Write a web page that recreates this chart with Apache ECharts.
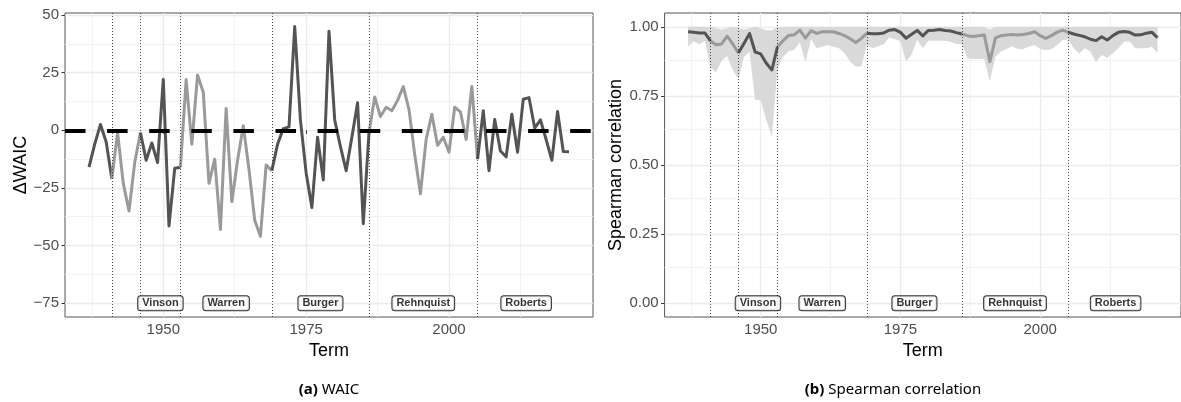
<!DOCTYPE html>
<html>
<head>
<meta charset="utf-8">
<script src="https://cdn.jsdelivr.net/npm/echarts@6/dist/echarts.min.js"></script>
<style>
  html, body { margin: 0; padding: 0; background: #fff; }
  #chart { width: 1181px; height: 402px; }
</style>
</head>
<body>
<div id="chart"></div>
<script>
// Supreme Court terms, 1937-2021
const years = [
  1937, 1938, 1939, 1940, 1941, 1942, 1943, 1944, 1945, 1946,
  1947, 1948, 1949, 1950, 1951, 1952, 1953, 1954, 1955, 1956,
  1957, 1958, 1959, 1960, 1961, 1962, 1963, 1964, 1965, 1966,
  1967, 1968, 1969, 1970, 1971, 1972, 1973, 1974, 1975, 1976,
  1977, 1978, 1979, 1980, 1981, 1982, 1983, 1984, 1985, 1986,
  1987, 1988, 1989, 1990, 1991, 1992, 1993, 1994, 1995, 1996,
  1997, 1998, 1999, 2000, 2001, 2002, 2003, 2004, 2005, 2006,
  2007, 2008, 2009, 2010, 2011, 2012, 2013, 2014, 2015, 2016,
  2017, 2018, 2019, 2020, 2021
];

// Difference in WAIC per term
const waic = [
  -16, -6, 2.5, -5, -21, -1, -23, -35, -14, -1,
  -13, -5.5, -14, 22, -41.5, -16.5, -16, 22, -6, 24,
  16.5, -23, -12.5, -43, 9.5, -31, -13, 2, -17, -39,
  -46, -15, -17.5, -6, 0.7, 1.5, 45, 4.5, -18.5, -33.5,
  -3, -21.5, 43, 4.5, -7, -17.5, -3, 12, -40.5, -1,
  14.5, 6, 10, 8.5, 13, 19, 9, -10.5, -27.5, -4,
  7, -6.5, -3, -9.5, 10, 8, -4, 19, -12.5, 8.5,
  -17.5, 4.7, -9, -11.5, 7, -9.5, 13.5, 14.2, 1, 4.5,
  -4, -13, 8.2, -9.2, -9.3
];

// Spearman correlation per term with its interval
const rho = [
  0.982, 0.980, 0.978, 0.978, 0.949, 0.935, 0.938, 0.966, 0.938, 0.905,
  0.940, 0.976, 0.909, 0.902, 0.868, 0.844, 0.928, 0.950, 0.969, 0.971,
  0.988, 0.959, 0.986, 0.976, 0.982, 0.982, 0.982, 0.976, 0.968, 0.957,
  0.943, 0.958, 0.977, 0.975, 0.975, 0.978, 0.988, 0.990, 0.980, 0.959,
  0.973, 0.987, 0.967, 0.987, 0.988, 0.990, 0.987, 0.985, 0.979, 0.974,
  0.968, 0.965, 0.968, 0.970, 0.874, 0.960, 0.968, 0.970, 0.972, 0.970,
  0.972, 0.976, 0.982, 0.968, 0.958, 0.968, 0.980, 0.988, 0.981, 0.974,
  0.969, 0.964, 0.955, 0.950, 0.964, 0.952, 0.968, 0.980, 0.983, 0.980,
  0.970, 0.971, 0.977, 0.980, 0.961
];
const rhoLower = [
  0.928, 0.948, 0.936, 0.950, 0.853, 0.836, 0.877, 0.894, 0.844, 0.810,
  0.891, 0.910, 0.736, 0.734, 0.663, 0.603, 0.850, 0.892, 0.912, 0.917,
  0.943, 0.872, 0.956, 0.922, 0.928, 0.934, 0.928, 0.922, 0.904, 0.874,
  0.856, 0.856, 0.934, 0.922, 0.930, 0.937, 0.961, 0.955, 0.949, 0.874,
  0.901, 0.953, 0.922, 0.950, 0.950, 0.950, 0.950, 0.946, 0.938, 0.938,
  0.886, 0.884, 0.884, 0.884, 0.803, 0.892, 0.911, 0.920, 0.930, 0.920,
  0.920, 0.929, 0.934, 0.920, 0.916, 0.918, 0.934, 0.951, 0.955, 0.922,
  0.904, 0.922, 0.910, 0.872, 0.898, 0.888, 0.904, 0.922, 0.946, 0.948,
  0.922, 0.922, 0.922, 0.928, 0.904
];
const rhoUpper = [
  1.000, 1.000, 1.000, 1.000, 1.000, 0.995, 0.990, 0.995, 1.000, 0.995,
  0.990, 0.995, 1.000, 0.995, 0.988, 0.988, 0.998, 1.000, 1.000, 1.000,
  1.000, 1.000, 1.000, 1.000, 1.000, 1.000, 1.000, 1.000, 1.000, 1.000,
  1.000, 1.000, 1.000, 1.000, 1.000, 1.000, 1.000, 1.000, 1.000, 1.000,
  1.000, 1.000, 1.000, 1.000, 1.000, 1.000, 1.000, 1.000, 1.000, 1.000,
  1.000, 1.000, 1.000, 1.000, 0.990, 1.000, 1.000, 1.000, 1.000, 1.000,
  1.000, 1.000, 1.000, 1.000, 1.000, 1.000, 1.000, 1.000, 1.000, 1.000,
  1.000, 1.000, 1.000, 1.000, 1.000, 1.000, 1.000, 1.000, 1.000, 1.000,
  1.000, 1.000, 1.000, 1.000, 1.000
];

// Courts (first term of each)
const courtNames = ['Hughes', 'Stone', 'Vinson', 'Warren', 'Burger', 'Rehnquist', 'Roberts'];
const courtStarts = [1937, 1941, 1946, 1953, 1969, 1986, 2005];
const labelledCourts = ['Vinson', 'Warren', 'Burger', 'Rehnquist', 'Roberts'];
const labelYears = [1949.5, 1961, 1977.5, 1995.5, 2013.5];

// Axis ticks
const xTicks = [1950, 1975, 2000];
const xMinor = [1937.5, 1962.5, 1987.5, 2012.5];
const waicTicks = [-75, -50, -25, 0, 25, 50];
const waicMinor = [-62.5, -37.5, -12.5, 12.5, 37.5];
const rhoTicks = [0, 0.25, 0.5, 0.75, 1];
const rhoMinor = [0.125, 0.375, 0.625, 0.875];

const DARK = '#545454';
const LIGHT = '#9a9a9a';
const FONT = '"Liberation Sans", Arial, Helvetica, sans-serif';

// Split a per-term series into one path per court; each path runs
// up to the first term of the following court so the line stays joined.
function courtPaths(values) {
  return courtNames.map((name, i) => {
    const start = courtStarts[i];
    const end = i + 1 < courtStarts.length ? courtStarts[i + 1] : years[years.length - 1];
    const pts = [];
    years.forEach((y, k) => { if (y >= start && y <= end) pts.push([y, values[k]]); });
    return { name, pts, color: i % 2 === 0 ? DARK : LIGHT };
  });
}

function lineSeries(values, gi) {
  return courtPaths(values).map(p => ({
    type: 'line', name: p.name, xAxisIndex: gi, yAxisIndex: gi,
    data: p.pts, showSymbol: false, symbol: 'none', z: 2,
    lineStyle: { color: p.color, width: 3, join: 'round' },
    silent: true
  }));
}

function gridSeries(gi, xMaj, xMin, yMaj, yMin) {
  const maj = { color: '#ebebeb', width: 1.3, type: 'solid' };
  const min = { color: '#f0f0f0', width: 0.9, type: 'solid' };
  const data = []
    .concat(xMin.map(v => ({ xAxis: v, lineStyle: min })))
    .concat(yMin.map(v => ({ yAxis: v, lineStyle: min })))
    .concat(xMaj.map(v => ({ xAxis: v, lineStyle: maj })))
    .concat(yMaj.map(v => ({ yAxis: v, lineStyle: maj })));
  return {
    type: 'line', xAxisIndex: gi, yAxisIndex: gi, data: [], silent: true, z: 0,
    markLine: { silent: true, symbol: ['none', 'none'], label: { show: false }, z: 0, animation: false, data }
  };
}

function courtDividers(gi, extra) {
  const data = courtStarts.slice(1).map(v => ({
    xAxis: v, lineStyle: { color: '#333', width: 0.9, type: [1, 2] }
  })).concat(extra || []);
  return {
    type: 'line', xAxisIndex: gi, yAxisIndex: gi, data: [], silent: true, z: 3,
    markLine: { silent: true, symbol: ['none', 'none'], label: { show: false }, z: 3, animation: false, data }
  };
}

function courtLabels(gi, yVal) {
  return {
    type: 'scatter', xAxisIndex: gi, yAxisIndex: gi, z: 5, silent: true,
    symbolSize: 0.1, itemStyle: { color: 'transparent' },
    data: labelYears.map((x, i) => ({ name: labelledCourts[i], value: [x, yVal] })),
    label: {
      show: true, position: 'inside', formatter: '{b}',
      fontFamily: FONT, fontWeight: 'bold', fontSize: 11, color: '#000', lineHeight: 12,
      backgroundColor: '#fff', borderColor: '#000', borderWidth: 1, borderRadius: 2.5,
      padding: [1, 4, 1, 4]
    }
  };
}

function xAxisDef(gi) {
  return {
    type: 'value', gridIndex: gi, min: 1932.8, max: 2025.2,
    name: 'Term', nameLocation: 'middle', nameGap: 18,
    nameTextStyle: { fontFamily: FONT, fontSize: 18, color: '#000' },
    axisLine: { show: false },
    axisTick: { show: true, length: 3.5, lineStyle: { color: '#333', width: 1 }, customValues: xTicks },
    axisLabel: { fontFamily: FONT, fontSize: 15, color: '#4d4d4d', margin: 5, customValues: xTicks,
                 formatter: v => String(v) },
    splitLine: { show: false }, minorSplitLine: { show: false }
  };
}

const waicLabel = v => (v < 0 ? '\u2212' + Math.abs(v) : String(v));

// Shaded interval between the lower and upper bounds, mapped through the axes
const intervalSeries = {
  type: 'custom', xAxisIndex: 1, yAxisIndex: 1, z: 1, silent: true,
  data: [[years[0], rhoUpper[0]]],
  renderItem: (params, api) => {
    const top = years.map((y, i) => api.coord([y, rhoUpper[i]]));
    const bottom = years.map((y, i) => api.coord([y, rhoLower[i]])).reverse();
    return {
      type: 'polygon',
      shape: { points: top.concat(bottom) },
      style: { fill: '#d9d9d9', stroke: null }
    };
  }
};

const option = {
  animation: false,
  backgroundColor: '#fff',
  grid: [
    { left: 65, top: 13, width: 528, height: 304, show: true, borderColor: '#555', borderWidth: 1, backgroundColor: 'transparent' },
    { left: 664.6, top: 13, width: 524.5, height: 304, show: true, borderColor: '#555', borderWidth: 1, backgroundColor: 'transparent' }
  ],
  xAxis: [xAxisDef(0), xAxisDef(1)],
  yAxis: [
    {
      type: 'value', gridIndex: 0, min: -81, max: 50.9,
      name: '\u0394WAIC', nameLocation: 'middle', nameGap: 34, nameRotate: 90,
      nameTextStyle: { fontFamily: FONT, fontSize: 18, color: '#000' },
      axisLine: { show: false },
      axisTick: { show: true, length: 3.5, lineStyle: { color: '#333', width: 1 }, customValues: waicTicks },
      axisLabel: { fontFamily: FONT, fontSize: 15, color: '#4d4d4d', margin: 6, customValues: waicTicks, formatter: waicLabel },
      splitLine: { show: false }, minorSplitLine: { show: false }
    },
    {
      type: 'value', gridIndex: 1, min: -0.05, max: 1.05,
      name: 'Spearman correlation', nameLocation: 'middle', nameGap: 38, nameRotate: 90,
      nameTextStyle: { fontFamily: FONT, fontSize: 18, color: '#000' },
      axisLine: { show: false },
      axisTick: { show: true, length: 3.5, lineStyle: { color: '#333', width: 1 }, customValues: rhoTicks },
      axisLabel: { fontFamily: FONT, fontSize: 15, color: '#4d4d4d', margin: 6, customValues: rhoTicks,
                   formatter: v => v.toFixed(2) },
      splitLine: { show: false }, minorSplitLine: { show: false }
    }
  ],
  series: [].concat(
    // panel (a): WAIC
    gridSeries(0, xTicks, xMinor, waicTicks, waicMinor),
    lineSeries(waic, 0),
    courtDividers(0, [{ yAxis: 0, lineStyle: { color: '#000', width: 4, type: [20.5, 21.6] } }]),
    courtLabels(0, -75),
    // panel (b): Spearman correlation
    gridSeries(1, xTicks, xMinor, rhoTicks, rhoMinor),
    intervalSeries,
    lineSeries(rho, 1),
    courtDividers(1),
    courtLabels(1, 0)
  ),
  graphic: [
    {
      type: 'text', x: 329, y: 390, silent: true,
      style: {
        text: '{b|(a)} WAIC', align: 'center', verticalAlign: 'middle',
        fontFamily: '"Noto Sans", sans-serif', fontSize: 15, fill: '#000',
        rich: { b: { fontWeight: 'bold', fontFamily: '"Noto Sans", sans-serif', fontSize: 15 } }
      }
    },
    {
      type: 'text', x: 893, y: 390, silent: true,
      style: {
        text: '{b|(b)} Spearman correlation', align: 'center', verticalAlign: 'middle',
        fontFamily: '"Noto Sans", sans-serif', fontSize: 15, fill: '#000',
        rich: { b: { fontWeight: 'bold', fontFamily: '"Noto Sans", sans-serif', fontSize: 15 } }
      }
    }
  ]
};

const chart = echarts.init(document.getElementById('chart'), null, { renderer: 'canvas' });
chart.setOption(option);
</script>
</body>
</html>
